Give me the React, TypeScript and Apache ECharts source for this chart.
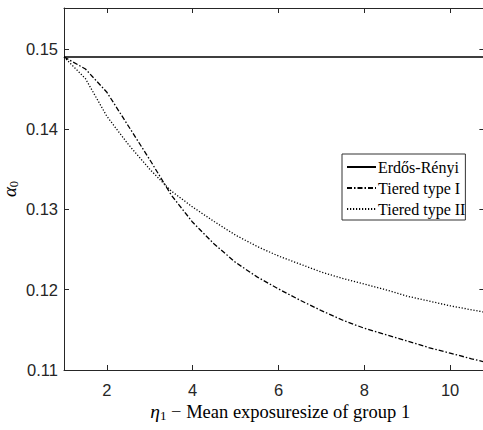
import React, { useEffect, useRef } from "react";
import * as echarts from "echarts";

// Mean exposure size of group 1 (eta_1)
const eta1 = [1, 1.5, 2, 2.5, 3, 3.5, 4, 4.5, 5, 5.5, 6, 6.5, 7, 7.5, 8, 8.5, 9, 9.5, 10, 10.5, 10.8];

// alpha_0 for each network model
const erdosRenyi = [0.149, 0.149, 0.149, 0.149, 0.149, 0.149, 0.149, 0.149, 0.149, 0.149, 0.149, 0.149, 0.149, 0.149, 0.149, 0.149, 0.149, 0.149, 0.149, 0.149, 0.149];
const tieredTypeI = [0.149, 0.1475, 0.1446, 0.1404, 0.1362, 0.1318, 0.1284, 0.1257, 0.1234, 0.1216, 0.1201, 0.1187, 0.1174, 0.1162, 0.1152, 0.1144, 0.1136, 0.1128, 0.1121, 0.1114, 0.111];
const tieredTypeII = [0.149, 0.1463, 0.1416, 0.1381, 0.135, 0.1323, 0.1303, 0.1285, 0.1268, 0.1254, 0.1242, 0.1232, 0.1222, 0.1214, 0.1207, 0.12, 0.1192, 0.1186, 0.118, 0.1175, 0.1172];

const seriesNames = ["Erdős-Rényi", "Tiered type I", "Tiered type II"];

const xTicks = [2, 4, 6, 8, 10];
const yTicks = [0.11, 0.12, 0.13, 0.14, 0.15];

const AXIS_COLOR = "#262626";
const SANS = "'Liberation Sans', Arial, Helvetica, sans-serif";
const SERIF = "'Liberation Serif', 'DejaVu Serif', serif";

const pairs = (ys: number[]) => eta1.map((x, i) => [x, ys[i]]);

export default function App() {
  const ref = useRef<HTMLDivElement>(null);

  useEffect(() => {
    if (!ref.current) return;
    const chart = echarts.init(ref.current, undefined, { renderer: "svg" });

    const axisLine = { show: true, lineStyle: { color: AXIS_COLOR, width: 1 } };
    const xTick = { show: true, inside: true, length: 5, customValues: xTicks, lineStyle: { color: AXIS_COLOR } };
    const yTick = { show: true, inside: true, length: 5, customValues: yTicks, lineStyle: { color: AXIS_COLOR } };

    chart.setOption({
      animation: false,
      backgroundColor: "#ffffff",
      grid: { left: 64, top: 8, width: 420.4, height: 362, containLabel: false, outerBoundsMode: "none" },
      legend: {
        orient: "vertical",
        left: 342,
        top: 154,
        padding: [5, 0, 3, 4],
        itemWidth: 29,
        itemHeight: 14,
        itemGap: 5,
        selectedMode: false,
        backgroundColor: "#ffffff",
        borderColor: "#333333",
        borderWidth: 1,
        borderRadius: 0,
        itemStyle: { color: "transparent", borderWidth: 0, opacity: 0 },
        textStyle: { fontFamily: SERIF, fontSize: 16, color: "#000000", lineHeight: 16, padding: [0, 0, 0, -3] },
        data: seriesNames,
      },
      xAxis: [
        {
          type: "value",
          position: "bottom",
          min: 1,
          max: 10.8,
          axisLine,
          axisTick: xTick,
          splitLine: { show: false },
          axisLabel: {
            customValues: xTicks,
            margin: 11,
            color: AXIS_COLOR,
            fontFamily: SANS,
            fontSize: 16.5,
          },
          name: "{e|η}{s|1} − Mean exposuresize of group 1",
          nameLocation: "middle",
          nameGap: 31,
          nameMoveOverlap: false,
          nameTextStyle: {
            fontFamily: SERIF,
            fontSize: 18.5,
            color: "#000000",
            padding: [0, 0, 0, 12],
            rich: {
              e: { fontFamily: SERIF, fontSize: 19.5, fontStyle: "italic", color: "#000000" },
              s: { fontFamily: SERIF, fontSize: 13, color: "#000000", padding: [8, 0, 0, 0] },
            },
          },
        },
        {
          type: "value",
          position: "top",
          min: 1,
          max: 10.8,
          axisLine,
          axisTick: xTick,
          axisLabel: { show: false },
          splitLine: { show: false },
        },
      ],
      yAxis: [
        {
          type: "value",
          position: "left",
          min: 0.11,
          max: 0.1551,
          axisLine,
          axisTick: yTick,
          splitLine: { show: false },
          axisLabel: {
            customValues: yTicks,
            margin: 6,
            color: AXIS_COLOR,
            fontFamily: SANS,
            fontSize: 16.5,
            formatter: (v: number) => v.toFixed(2),
          },
          name: "{a|α}{s|0}",
          nameLocation: "middle",
          nameGap: 44,
          nameRotate: 90,
          nameMoveOverlap: false,
          nameTextStyle: {
            fontFamily: SERIF,
            color: "#000000",
            rich: {
              a: { fontFamily: SERIF, fontSize: 19, fontStyle: "italic", color: "#000000" },
              s: { fontFamily: SERIF, fontSize: 12.5, color: "#000000", padding: [8, 0, 0, 0] },
            },
          },
        },
        {
          type: "value",
          position: "right",
          min: 0.11,
          max: 0.1551,
          axisLine,
          axisTick: yTick,
          axisLabel: { show: false },
          splitLine: { show: false },
        },
      ],
      series: [
        {
          name: seriesNames[0],
          type: "line",
          data: pairs(erdosRenyi),
          symbol: "none",
          lineStyle: { color: "#000000", width: 1.6, type: "solid" },
          itemStyle: { color: "#000000" },
        },
        {
          name: seriesNames[1],
          type: "line",
          data: pairs(tieredTypeI),
          symbol: "none",
          lineStyle: { color: "#000000", width: 1.3, type: [5, 2, 1.5, 2] },
          itemStyle: { color: "#000000" },
        },
        {
          name: seriesNames[2],
          type: "line",
          data: pairs(tieredTypeII),
          symbol: "none",
          lineStyle: { color: "#000000", width: 1.3, type: [1.2, 1.8] },
          itemStyle: { color: "#000000" },
        },
      ],
    });

    return () => chart.dispose();
  }, []);

  return (
    <div
      ref={ref}
      style={{ position: "fixed", left: 0, top: 0, width: 483, height: 430, background: "#ffffff" }}
    />
  );
}
